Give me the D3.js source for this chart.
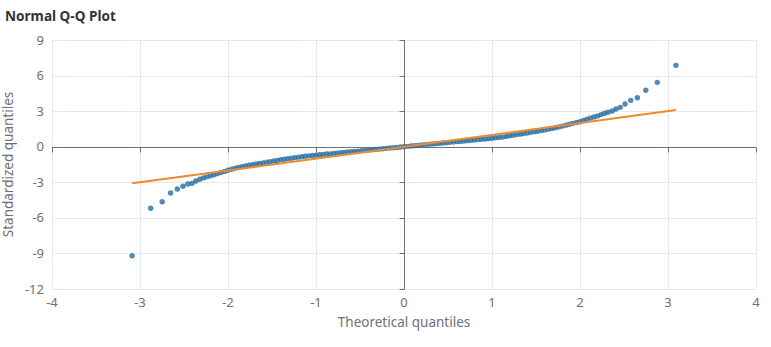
<!DOCTYPE html>
<html>
<head>
<meta charset="utf-8">
<script src="https://cdn.jsdelivr.net/npm/d3@7/dist/d3.min.js"></script>
<style>
  html, body { margin: 0; padding: 0; background: #fff; }
  svg { display: block; }
</style>
</head>
<body>
<svg id="chart" width="771" height="347"></svg>
<script>
// Theoretical normal quantiles (x) and standardized sample quantiles (y)
const theoretical = [
  -3.090, -2.878, -2.748, -2.652, -2.576, -2.512, -2.457, -2.409, -2.366,
  -2.32, -2.28, -2.24, -2.20, -2.16, -2.12, -2.08, -2.04, -2.00,
  -1.96, -1.92, -1.88, -1.84, -1.80, -1.76, -1.72, -1.68, -1.64, -1.60,
  -1.56, -1.52, -1.48, -1.44, -1.40, -1.36, -1.32, -1.28, -1.24, -1.20,
  -1.16, -1.12, -1.08, -1.04, -1.00, -0.96, -0.92, -0.88, -0.84, -0.80,
  -0.76, -0.72, -0.68, -0.64, -0.60, -0.56, -0.52, -0.48, -0.44, -0.40,
  -0.36, -0.32, -0.28, -0.24, -0.20, -0.16, -0.12, -0.08, -0.04, 0.00,
  0.04, 0.08, 0.12, 0.16, 0.20, 0.24, 0.28, 0.32, 0.36, 0.40,
  0.44, 0.48, 0.52, 0.56, 0.60, 0.64, 0.68, 0.72, 0.76, 0.80,
  0.84, 0.88, 0.92, 0.96, 1.00, 1.04, 1.08, 1.12, 1.16, 1.20,
  1.24, 1.28, 1.32, 1.36, 1.40, 1.44, 1.48, 1.52, 1.56, 1.60,
  1.64, 1.68, 1.72, 1.76, 1.80, 1.84, 1.88, 1.92, 1.96, 2.00,
  2.04, 2.08, 2.12, 2.16, 2.20, 2.24, 2.28, 2.32,
  2.366, 2.409, 2.457, 2.512, 2.576, 2.652, 2.748, 2.878, 3.090
];
const standardized = [
  -9.19, -5.19, -4.64, -3.90, -3.57, -3.34, -3.15, -3.09, -2.89,
  -2.74, -2.63, -2.54, -2.45, -2.36, -2.27, -2.17, -2.08, -1.98,
  -1.90, -1.82, -1.75, -1.68, -1.62, -1.56, -1.51, -1.46, -1.41, -1.36,
  -1.31, -1.26, -1.21, -1.16, -1.10, -1.06, -1.01, -0.97, -0.92, -0.88,
  -0.84, -0.81, -0.77, -0.74, -0.71, -0.68, -0.65, -0.62, -0.60, -0.57,
  -0.54, -0.51, -0.48, -0.45, -0.43, -0.40, -0.37, -0.34, -0.31, -0.28,
  -0.26, -0.23, -0.20, -0.17, -0.14, -0.11, -0.09, -0.06, -0.03, 0.00,
  0.03, 0.06, 0.09, 0.11, 0.14, 0.17, 0.20, 0.23, 0.26, 0.28,
  0.31, 0.34, 0.37, 0.40, 0.43, 0.45, 0.48, 0.51, 0.54, 0.57,
  0.60, 0.62, 0.65, 0.68, 0.71, 0.75, 0.78, 0.82, 0.87, 0.92,
  0.97, 1.02, 1.06, 1.11, 1.16, 1.21, 1.26, 1.31, 1.36, 1.42,
  1.48, 1.54, 1.60, 1.67, 1.74, 1.82, 1.90, 1.97, 2.04, 2.11,
  2.21, 2.32, 2.42, 2.51, 2.60, 2.71, 2.82, 2.91,
  3.01, 3.18, 3.32, 3.60, 3.91, 4.13, 4.76, 5.43, 6.86
];

// Reference line endpoints
const refLineX = [-3.09, 3.09];
const refLineY = [-3.09, 3.09];

// Axis ticks
const xTicks = [-4, -3, -2, -1, 0, 1, 2, 3, 4];
const yTicks = [-12, -9, -6, -3, 0, 3, 6, 9];

const titleText = "Normal Q-Q Plot";
const xAxisName = "Theoretical quantiles";
const yAxisName = "Standardized quantiles";

const svg = d3.select("#chart");
const plotLeft = 52, plotRight = 756, plotTop = 40, plotBottom = 289;

const x = d3.scaleLinear().domain([-4, 4]).range([plotLeft, plotRight]);
const y = d3.scaleLinear().domain([-12, 9]).range([plotBottom, plotTop]);

const gridColor = "#e4e9f0";
const axisColor = "#6e7079";
const labelColor = "#6e7079";
const font = "'Noto Sans', 'Open Sans', sans-serif";

// Grid
const grid = svg.append("g");
grid.selectAll("line.gx").data(xTicks).join("line")
  .attr("x1", d => Math.round(x(d)) + 0.5).attr("x2", d => Math.round(x(d)) + 0.5)
  .attr("y1", plotTop).attr("y2", plotBottom)
  .attr("stroke", gridColor).attr("stroke-width", 1);
grid.selectAll("line.gy").data(yTicks).join("line")
  .attr("y1", d => Math.round(y(d)) + 0.5).attr("y2", d => Math.round(y(d)) + 0.5)
  .attr("x1", plotLeft).attr("x2", plotRight)
  .attr("stroke", gridColor).attr("stroke-width", 1);

// Axis lines crossing at zero
const x0 = Math.round(x(0)) + 0.5, y0 = Math.round(y(0)) + 0.5;
svg.append("line").attr("x1", plotLeft).attr("x2", plotRight).attr("y1", y0).attr("y2", y0)
  .attr("stroke", axisColor).attr("stroke-width", 1);
svg.append("line").attr("x1", x0).attr("x2", x0).attr("y1", plotTop).attr("y2", plotBottom)
  .attr("stroke", axisColor).attr("stroke-width", 1);

// Ticks on the zero lines
svg.append("g").selectAll("line").data(xTicks).join("line")
  .attr("x1", d => Math.round(x(d)) + 0.5).attr("x2", d => Math.round(x(d)) + 0.5)
  .attr("y1", y0).attr("y2", y0 + 5)
  .attr("stroke", axisColor).attr("stroke-width", 1);
svg.append("g").selectAll("line").data(yTicks).join("line")
  .attr("y1", d => Math.round(y(d)) + 0.5).attr("y2", d => Math.round(y(d)) + 0.5)
  .attr("x1", x0 - 5).attr("x2", x0)
  .attr("stroke", axisColor).attr("stroke-width", 1);

// Tick labels along the plot edges
svg.append("g").selectAll("text").data(xTicks).join("text")
  .attr("x", d => x(d)).attr("y", plotBottom + 18)
  .attr("text-anchor", "middle")
  .attr("font-family", font).attr("font-size", 13).attr("fill", labelColor)
  .text(d => d);
svg.append("g").selectAll("text").data(yTicks).join("text")
  .attr("x", plotLeft - 8).attr("y", d => y(d))
  .attr("dy", "0.35em")
  .attr("text-anchor", "end")
  .attr("font-family", font).attr("font-size", 13).attr("fill", labelColor)
  .text(d => d);

// Axis names
svg.append("text")
  .attr("x", (plotLeft + plotRight) / 2).attr("y", plotBottom + 38)
  .attr("text-anchor", "middle")
  .attr("font-family", font).attr("font-size", 13.5).attr("fill", labelColor)
  .text(xAxisName);
svg.append("text")
  .attr("transform", `translate(13, ${(plotTop + plotBottom) / 2}) rotate(-90)`)
  .attr("text-anchor", "middle")
  .attr("font-family", font).attr("font-size", 13.5).attr("fill", labelColor)
  .text(yAxisName);

// Points
const pts = theoretical.map((t, i) => ({ t, s: standardized[i] }));
svg.append("g").selectAll("circle").data(pts).join("circle")
  .attr("cx", d => x(d.t)).attr("cy", d => y(d.s)).attr("r", 2.7)
  .attr("fill", "#2b70a4").attr("fill-opacity", 0.82);

// Reference line
svg.append("line")
  .attr("x1", x(refLineX[0])).attr("y1", y(refLineY[0]))
  .attr("x2", x(refLineX[1])).attr("y2", y(refLineY[1]))
  .attr("stroke", "#ef8a2b").attr("stroke-width", 2);

// Title
svg.append("text")
  .attr("x", 5).attr("y", 21)
  .attr("font-family", font).attr("font-size", 13.6).attr("font-weight", "bold")
  .attr("fill", "#333")
  .text(titleText);
</script>
</body>
</html>
